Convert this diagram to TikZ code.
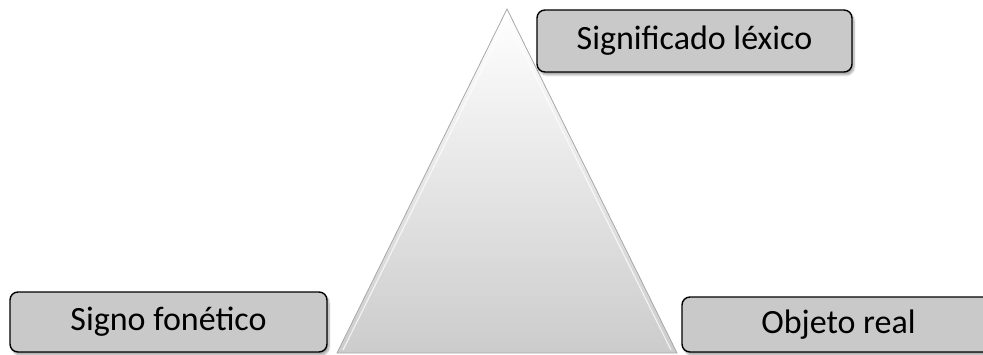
\documentclass[tikz,border=0pt]{standalone}
\usepackage{fontspec}
\setmainfont{Carlito}
\usetikzlibrary{calc,shadows.blur}
\definecolor{boxfill}{HTML}{C9C9C9}
\definecolor{pyredge}{HTML}{A8A8A8}
\tikzset{
  label box/.style={draw=black, line width=1.4pt, fill=boxfill, rounded corners=8pt,
    inner sep=0pt, font=\fontsize{34}{37}\selectfont,
    blur shadow={shadow xshift=2pt, shadow yshift=-3pt, shadow opacity=35, shadow blur steps=6}},
  pyramid/.style={draw=pyredge, line width=0.8pt, top color=white, bottom color=gray!40}
}
\begin{document}
\begin{tikzpicture}[x=1pt,y=1pt]
  \useasboundingbox (0,0) rectangle (983,354);
  % the triangle with a soft bevel highlight
  \coordinate (apex) at (507,345);
  \coordinate (bl) at (337,1);
  \coordinate (br) at (677,1);
  \shade[pyramid] (bl) -- (apex) -- (br) -- cycle;
  \draw[white, line width=1.2pt, opacity=0.7] ($(bl)+(6,3)$) -- ($(apex)+(0,-10)$) -- ($(br)+(-6,3)$);
  % the three labels
  \node[label box, minimum width=315pt, minimum height=62pt] (lex) at (694.5,313) {Significado léxico};
  \node[label box, minimum width=317pt, minimum height=60pt] (fon) at (168.5,32) {Signo fonético};
  \node[label box, minimum width=313pt, minimum height=55pt] (obj) at (838.5,29.5) {Objeto real};
\end{tikzpicture}
\end{document}
